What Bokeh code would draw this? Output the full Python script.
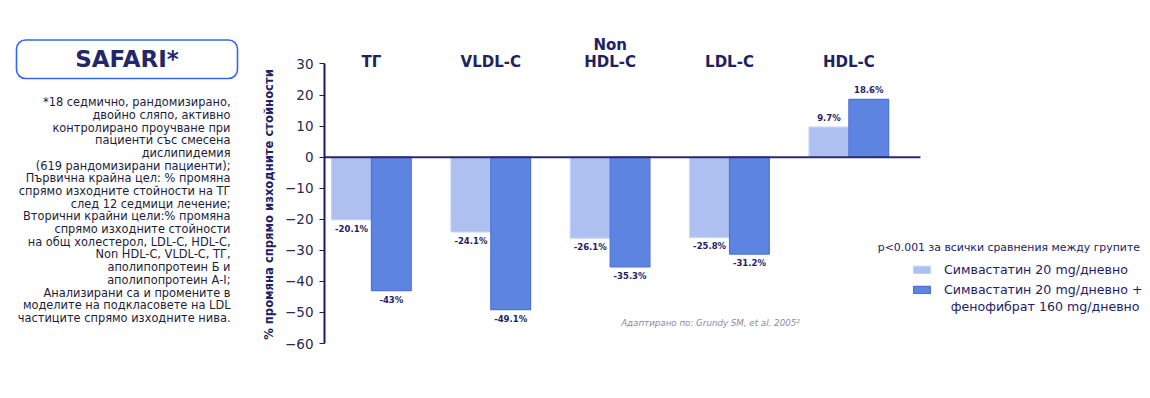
import math
from bokeh.plotting import figure
from bokeh.models import ColumnDataSource, Legend, LegendItem, Label, BoxAnnotation, FixedTicker, Range1d
from bokeh.layouts import row
from bokeh.embed import file_html
from bokeh.resources import INLINE
from bokeh.core.properties import value

# ---------------- data ----------------
categories = ["ТГ", "VLDL-C", "Non\nHDL-C", "LDL-C", "HDL-C"]
simva = [-20.1, -24.1, -26.1, -25.8, 9.7]
simva_feno = [-43.0, -49.1, -35.3, -31.2, 18.6]
simva_labels = ["-20.1%", "-24.1%", "-26.1%", "-25.8%", "9.7%"]
feno_labels = ["-43%", "-49.1%", "-35.3%", "-31.2%", "18.6%"]
y_ticks = [-60, -50, -40, -30, -20, -10, 0, 10, 20, 30]
series_names = ["Симвастатин 20 mg/дневно",
                "Симвастатин 20 mg/дневно +\nфенофибрат 160 mg/дневно"]
y_title = "% промяна спрямо изходните стойности"
p_note = "p<0.001 за всички сравнения между групите"
source_note = "Адаптирано по: Grundy SM, et al. 2005²"
study_title = "SAFARI*"
study_lines = [
    "*18 седмично, рандомизирано,",
    "двойно сляпо, активно",
    "контролирано проучване при",
    "пациенти със смесена",
    "дислипидемия",
    "(619 рандомизирани пациенти);",
    "Първична крайна цел: % промяна",
    "спрямо изходните стойности на ТГ",
    "след 12 седмици лечение;",
    "Вторични крайни цели:% промяна",
    "спрямо изходните стойности",
    "на общ холестерол, LDL-C, HDL-C,",
    "Non HDL-C, VLDL-C, ТГ,",
    "аполипопротеин Б и",
    "аполипопротеин А-I;",
    "Анализирани са и промените в",
    "моделите на подкласовете на LDL",
    "частиците спрямо изходните нива.",
]

NAVY = "#1e2264"
FONT = "DejaVu Sans"
LIGHT = "#adc0ef"
LIGHT_LINE = "#c2d0f5"
DARK = "#5e84e1"
DARK_LINE = "#4c73dc"

H = 390
FRAME_TOP = 20
FRAME_BOTTOM = 343
LW = 282

# ---------------- left text panel (page-pixel coordinates) ----------------
left = figure(width=LW, height=H, output_backend="svg", toolbar_location=None,
              x_range=Range1d(0, LW), y_range=Range1d(-FRAME_BOTTOM, -FRAME_TOP),
              x_axis_location=None, y_axis_location=None,
              min_border_left=0, min_border_right=0,
              min_border_top=FRAME_TOP, min_border_bottom=H - FRAME_BOTTOM,
              outline_line_color=None)
left.grid.visible = False

box = BoxAnnotation(left=16, right=237, top=-39.5, bottom=-78,
                    fill_color=None, line_color="#3567ea", line_alpha=1.0,
                    line_width=1.6, border_radius=9)
left.add_layout(box)
left.text(x=[126.5], y=[-58.5], text=[study_title], text_font=value(FONT),
          text_font_style="bold", text_font_size="23px", text_color="#23266b",
          text_align="center", text_baseline="middle")
n = len(study_lines)
ys = [-(101.7 + i * 12.69) for i in range(n)]
left.text(x=[230] * n, y=ys, text=study_lines, text_font=value(FONT),
          text_font_size="11.4px", text_color="#1d1d3a",
          text_align="right", text_baseline="middle")
left.text(x=[268], y=[-204], text=[y_title], angle=math.pi / 2,
          text_font=value(FONT), text_font_style="bold", text_font_size="11.6px",
          text_color=NAVY, text_align="center", text_baseline="middle")

# ---------------- main chart ----------------
px_per_unit = 119.5
x_start = -(370 - 323) / px_per_unit
frame_w = 1142 - 323
x_end = x_start + frame_w / px_per_unit
ppu_y = (FRAME_BOTTOM - FRAME_TOP) / 104.0
zero_y = FRAME_BOTTOM - 60 * ppu_y

def dy(page_y):
    return (zero_y - page_y) / ppu_y

def dx(page_x):
    return (page_x - 370) / px_per_unit

p = figure(width=1142 - LW, height=H, output_backend="svg", toolbar_location=None,
           x_range=Range1d(x_start, x_end), y_range=Range1d(-60, 44),
           x_axis_location=None, min_border_left=323 - LW, min_border_right=0,
           min_border_top=FRAME_TOP, min_border_bottom=H - FRAME_BOTTOM,
           outline_line_color=None)
p.grid.visible = False

xs = list(range(len(categories)))
bw = 1 / 3
src = ColumnDataSource(dict(
    x1=[x - bw / 2 for x in xs], x2=[x + bw / 2 for x in xs],
    s=simva, f=simva_feno, sl=simva_labels, fl=feno_labels,
    so=[9 if v < 0 else -9 for v in simva],
    fo=[9 if v < 0 else -9 for v in simva_feno],
))

r1 = p.vbar(x="x1", top="s", bottom=0, width=bw, source=src,
            fill_color=LIGHT, line_color=LIGHT_LINE, line_width=1.2)
r2 = p.vbar(x="x2", top="f", bottom=0, width=bw, source=src,
            fill_color=DARK, line_color=DARK_LINE, line_width=1.2)

# zero line
p.segment(x0=[x_start], y0=[0], x1=[len(categories) - 0.4], y1=[0],
          line_color="#2b2b6b", line_width=2)

for xcol, ycol, tcol, ocol in (("x1", "s", "sl", "so"), ("x2", "f", "fl", "fo")):
    p.text(x=xcol, y=ycol, text=tcol, y_offset=ocol, source=src,
           text_font=value(FONT), text_font_style="bold", text_font_size="8.5px",
           text_color=NAVY, text_align="center", text_baseline="middle")

p.text(x=xs, y=[dy(70.5)] * len(xs), text=categories, text_font=value(FONT),
       text_font_style="bold", text_font_size="15px", text_color=NAVY,
       text_align="center", text_baseline="bottom", text_line_height=0.97)

# y axis
ax = p.yaxis[0]
ax.ticker = FixedTicker(ticks=y_ticks)
ax.bounds = (-60, 30)
ax.axis_line_color = "#1a1a5a"
ax.axis_line_width = 2
ax.major_tick_in = 0
ax.major_tick_out = 5
ax.major_tick_line_color = "#1a1a5a"
ax.minor_tick_line_color = None
ax.major_label_standoff = 6
ax.major_label_text_font = FONT
ax.major_label_text_font_size = "13.5px"
ax.major_label_text_color = "#2a2a50"

p.add_layout(Label(x=dx(877), y=dy(246.7), text=p_note,
                   text_font=FONT, text_font_size="10.9px", text_color=NAVY,
                   text_baseline="middle"))
p.add_layout(Label(x=dx(620), y=dy(322), text=source_note,
                   text_font=FONT, text_font_size="8.7px", text_font_style="italic",
                   text_color="#8a8a9a", text_baseline="middle"))

name2_lines = series_names[1].split("\n")
legend = Legend(items=[LegendItem(label=series_names[0], renderers=[r1]),
                       LegendItem(label=name2_lines[0], renderers=[r2])],
                location=(587, 44), glyph_width=21, glyph_height=9,
                label_standoff=12, label_text_font=FONT,
                label_text_font_size="12.6px", label_text_color=NAVY,
                label_height=20, spacing=0, padding=0, margin=0,
                border_line_alpha=0, background_fill_alpha=0)
p.add_layout(legend)
p.add_layout(Label(x=dx(1139), y=dy(306), text=name2_lines[1],
                   text_font=FONT, text_font_size="12.6px", text_color=NAVY,
                   text_align="right", text_baseline="middle"))

layout = row(left, p, spacing=0)
open("out.html", "w").write(file_html(layout, INLINE))
